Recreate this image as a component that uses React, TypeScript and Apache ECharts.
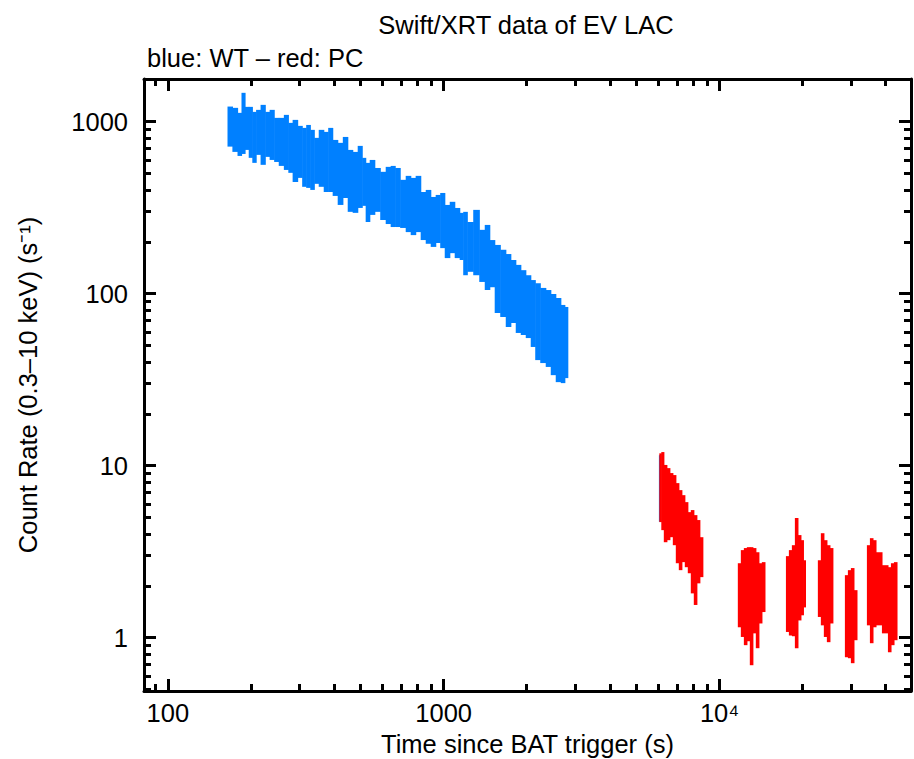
import React, { useEffect, useRef } from 'react';
import * as echarts from 'echarts';

// ---- texts ----
const chartTitle = 'Swift/XRT data of EV LAC';
const chartSubtitle = 'blue: WT \u2013 red: PC';
const xAxisName = 'Time since BAT trigger (s)';
const yAxisName = 'Count Rate (0.3\u201310 keV) (s\u207B\u00B9)';

// ---- axis ranges ----
const xRange = [82, 49400];
const yRange = [0.49, 1770];
const minorPerDecade = 9;

// ---- WT mode (blue): bin time (s), upper and lower error-bar ends (count/s) ----
const wtTime = [168, 175, 183, 187, 194, 199, 206, 212, 222, 229, 239, 247, 258, 269, 278, 289, 302, 312, 323, 334, 345, 360, 375, 388, 404, 422, 440, 458, 478, 498, 515, 528, 551, 574, 604, 629, 656, 678, 713, 744, 775, 808, 843, 879, 916, 955, 988, 1030, 1074, 1119, 1167, 1187, 1248, 1312, 1380, 1438, 1499, 1563, 1644, 1714, 1787, 1863, 1943, 2025, 2111, 2183, 2295, 2393, 2495, 2601, 2713, 2781, 6062];
const wtHigh = [1224, 1203, 1125, 1471, 1219, 1219, 1140, 1171, 1252, 1140, 1171, 1052, 1052, 1095, 984, 1024, 945, 920, 957, 896, 805, 896, 872, 920, 783, 753, 815, 685, 667, 723, 616, 576, 599, 538, 511, 546, 553, 538, 459, 484, 471, 484, 390, 401, 365, 375, 385, 328, 342, 315, 295, 299, 261, 307, 235, 251, 205, 192, 180, 170, 157, 147, 137, 128, 120, 115, 108, 105, 99.6, 94.4, 86.0, 83.7, 11.5];
const wtLow = [716, 667, 632, 649, 685, 616, 576, 641, 561, 624, 599, 583, 553, 524, 504, 446, 471, 418, 412, 401, 435, 418, 390, 390, 370, 328, 360, 299, 295, 315, 324, 261, 287, 299, 268, 254, 244, 244, 241, 228, 219, 228, 205, 195, 187, 197, 184, 161, 172, 161, 157, 128, 134, 128, 117, 105, 109, 77.2, 73.2, 64.0, 67.5, 59.1, 57.5, 55.2, 49.0, 41.1, 39.5, 37.5, 33.6, 30.6, 30.2, 32.3, 4.72];

// ---- PC mode (red) ----
const pcTime = [6097, 6199, 6357, 6518, 6683, 6853, 7026, 7204, 7387, 7573, 7766, 7962, 8165, 8372, 8583, 11790, 12090, 12400, 12710, 13030, 13360, 13700, 14050, 14410, 17610, 18050, 18510, 18980, 19460, 19950, 20290, 22990, 23570, 24170, 24790, 25410, 28810, 29540, 30290, 31060, 34620, 35500, 36400, 37330, 40240, 41260, 42310, 43380];
const pcHigh = [11.8, 12.0, 10.1, 9.68, 9.06, 8.82, 7.92, 7.21, 6.74, 6.14, 5.37, 5.52, 5.16, 4.83, 3.84, 2.71, 3.23, 3.32, 3.36, 3.36, 3.32, 3.14, 2.71, 2.75, 2.98, 3.23, 3.45, 4.96, 3.95, 3.69, 2.82, 2.82, 4.05, 3.69, 3.45, 3.32, 2.31, 2.47, 2.54, 1.89, 3.45, 3.79, 3.69, 3.14, 2.64, 2.57, 2.71, 2.75];
const pcLow = [4.70, 4.22, 3.59, 3.69, 3.84, 3.45, 2.71, 2.47, 2.75, 2.57, 2.37, 1.81, 1.55, 2.07, 2.25, 1.15, 1.01, 0.905, 0.954, 0.692, 1.06, 0.869, 1.21, 1.41, 1.08, 1.03, 1.02, 0.869, 1.26, 1.35, 1.50, 1.32, 1.18, 1.01, 0.942, 1.21, 0.770, 0.760, 0.711, 0.967, 1.18, 0.929, 1.15, 1.18, 1.06, 0.823, 0.905, 0.967];

const WT_COLOR = '#0080ff';
const PC_COLOR = '#ff0000';
const FONT = '"Liberation Sans", Arial, Helvetica, sans-serif';
const FS = 25.5;
const MAJOR_LEN = 12;
const MINOR_LEN = 7;

function binEdges(times: number[]): number[][] {
  return times.map((t, i) => {
    const prev = i > 0 ? times[i - 1] : NaN;
    const next = i < times.length - 1 ? times[i + 1] : NaN;
    const hasPrev = prev > 0 && t / prev < 1.1;
    const hasNext = next > 0 && next / t < 1.1;
    let left: number | undefined = hasPrev ? Math.sqrt(prev * t) : undefined;
    let right: number | undefined = hasNext ? Math.sqrt(t * next) : undefined;
    if (left === undefined && right === undefined) {
      left = t / 1.006;
      right = t * 1.006;
    } else if (left === undefined) {
      left = (t * t) / (right as number);
    } else if (right === undefined) {
      right = (t * t) / left;
    }
    return [left as number, right as number];
  });
}

function buildBins(times: number[], low: number[], high: number[]) {
  const edges = binEdges(times);
  return times.map((_, i) => [edges[i][0], edges[i][1], low[i], high[i]]);
}

function binSeries(name: string, data: number[][], color: string) {
  return {
    type: 'custom',
    name,
    silent: true,
    data,
    xAxisIndex: 0,
    yAxisIndex: 0,
    encode: { x: [0, 1], y: [2, 3] },
    renderItem: (params: any, api: any) => {
      const p0 = api.coord([api.value(0), api.value(3)]);
      const p1 = api.coord([api.value(1), api.value(2)]);
      return {
        type: 'rect',
        shape: {
          x: p0[0],
          y: p0[1],
          width: Math.max(1.5, p1[0] - p0[0] + 0.6),
          height: p1[1] - p0[1],
        },
        style: { fill: color },
      };
    },
    z: 3,
  };
}

const axisLineStyle = { color: '#000', width: 3 };
const tickLineStyle = { color: '#000', width: 3 };
const tickCommon = {
  axisLine: { show: true, lineStyle: axisLineStyle },
  axisTick: { show: true, inside: true, length: MAJOR_LEN, lineStyle: tickLineStyle },
  minorTick: { show: true, splitNumber: minorPerDecade, length: MINOR_LEN, lineStyle: tickLineStyle },
  splitLine: { show: false },
  minorSplitLine: { show: false },
  z: 10,
};

function xFormatter(v: number) {
  const r = Math.round(v);
  if (r === 10000) return '10\u2074';
  return String(r);
}

export default function App() {
  const ref = useRef<HTMLDivElement>(null);

  useEffect(() => {
    if (!ref.current) return;
    const chart = echarts.init(ref.current, undefined, { renderer: 'svg' });

    const labelStyle = { fontFamily: FONT, fontSize: FS, color: '#000' };

    const option: any = {
      animation: false,
      backgroundColor: '#fff',
      title: [
        {
          text: chartTitle,
          left: 526,
          top: 12,
          textAlign: 'center',
          padding: 0,
          textStyle: { fontFamily: FONT, fontSize: FS, fontWeight: 'normal', color: '#000' },
        },
        {
          text: chartSubtitle,
          left: 147,
          top: 45,
          padding: 0,
          textStyle: { fontFamily: FONT, fontSize: FS, fontWeight: 'normal', color: '#000' },
        },
      ],
      grid: {
        left: 144,
        right: 3,
        top: 79,
        bottom: 68,
        show: false,
        containLabel: false,
        outerBoundsMode: 'none',
      },
      xAxis: [
        {
          type: 'log',
          logBase: 10,
          position: 'bottom',
          min: xRange[0],
          max: xRange[1],
          name: xAxisName,
          nameLocation: 'middle',
          nameGap: 38,
          nameTextStyle: labelStyle,
          ...tickCommon,
          axisLabel: {
            show: true,
            showMinLabel: false,
            showMaxLabel: false,
            margin: 9,
            ...labelStyle,
            formatter: xFormatter,
          },
        },
        {
          type: 'log',
          logBase: 10,
          position: 'top',
          min: xRange[0],
          max: xRange[1],
          ...tickCommon,
          axisLabel: { show: false },
        },
      ],
      yAxis: [
        {
          type: 'log',
          logBase: 10,
          position: 'left',
          min: yRange[0],
          max: yRange[1],
          name: yAxisName,
          nameLocation: 'middle',
          nameGap: 103,
          nameTextStyle: labelStyle,
          ...tickCommon,
          axisLabel: {
            show: true,
            showMinLabel: false,
            showMaxLabel: false,
            margin: 16,
            ...labelStyle,
            formatter: (v: number) => String(Math.round(v)),
          },
        },
        {
          type: 'log',
          logBase: 10,
          position: 'right',
          min: yRange[0],
          max: yRange[1],
          ...tickCommon,
          axisLabel: { show: false },
        },
      ],
      series: [
        binSeries('WT', buildBins(wtTime, wtLow, wtHigh), WT_COLOR),
        binSeries('PC', buildBins(pcTime, pcLow, pcHigh), PC_COLOR),
      ],
    };

    chart.setOption(option);

    return () => {
      chart.dispose();
    };
  }, []);

  return (
    <div
      ref={ref}
      style={{ position: 'absolute', left: 0, top: 0, width: 914, height: 759, background: '#fff' }}
    />
  );
}
